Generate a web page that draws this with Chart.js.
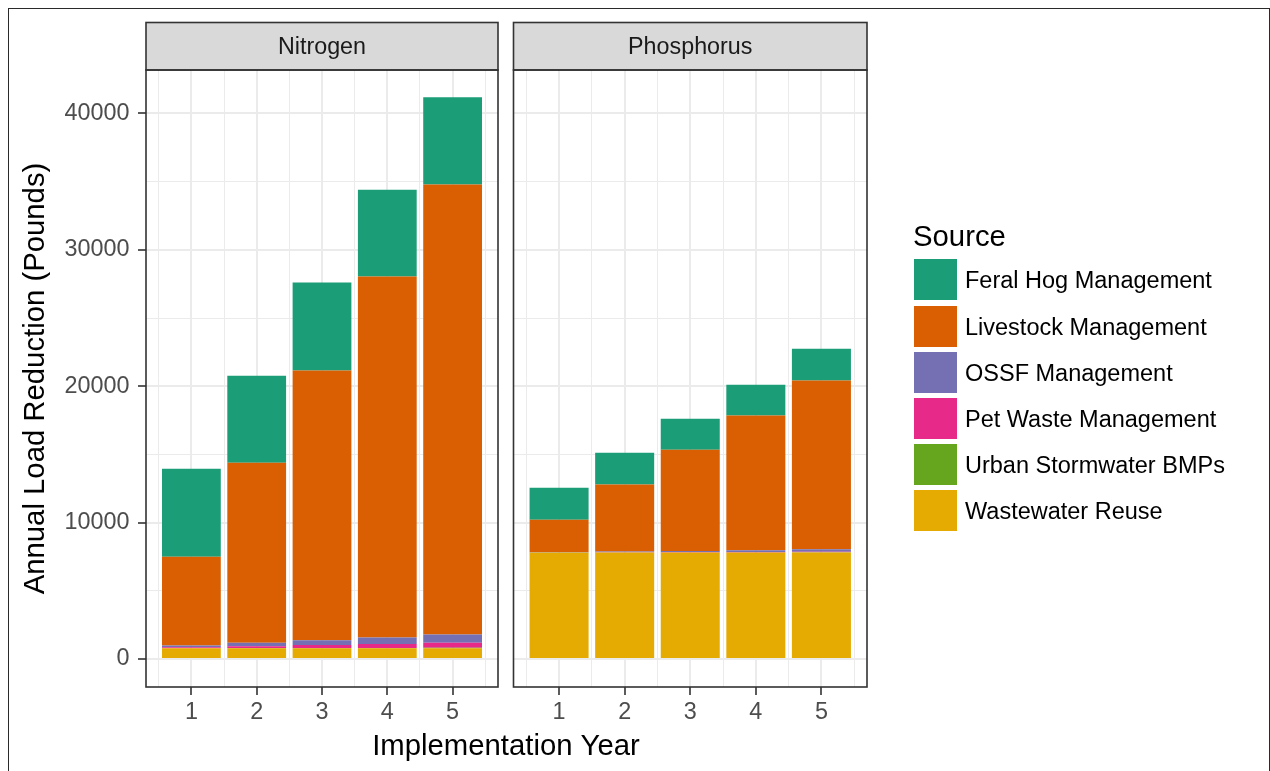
<!DOCTYPE html>
<html>
<head>
<meta charset="utf-8">
<script src="https://cdn.jsdelivr.net/npm/chart.js@4/dist/chart.umd.min.js"></script>
<style>
  html, body { margin: 0; padding: 0; background: #ffffff; overflow: hidden; }
  body { width: 1270px; height: 771px; position: relative; font-family: "Liberation Sans", Arial, sans-serif; }
  #frame { position: absolute; left: 8px; top: 8px; width: 1262px; height: 820px; box-sizing: border-box; border: 1px solid #2a2a2a; }
  canvas { position: absolute; left: 0; top: 0; }
  #legend { position: absolute; left: 0; top: 0; }
  .lg-title { position: absolute; left: 913px; top: 219px; font-size: 29.3px; line-height: 34px; color: #000; white-space: nowrap; }
  .lg-key { position: absolute; left: 914px; width: 43px; height: 41px; }
  .lg-text { position: absolute; left: 965px; font-size: 23.5px; line-height: 28px; color: #000; white-space: nowrap; }
</style>
</head>
<body>
<div id="frame"></div>
<canvas id="nitrogen" width="1270" height="771"></canvas>
<canvas id="phosphorus" width="1270" height="771"></canvas>
<div id="legend"></div>
<script>
// Implementation years on the x axis
const years = [1, 2, 3, 4, 5];
const panelTitles = ['Nitrogen', 'Phosphorus'];
const sourceNames = ['Feral Hog Management', 'Livestock Management', 'OSSF Management',
                     'Pet Waste Management', 'Urban Stormwater BMPs', 'Wastewater Reuse'];
const sourceColors = ['#1B9E77', '#D95F02', '#7570B3', '#E7298A', '#66A61E', '#E6AB02'];

// Annual load reduction (pounds), nitrogen
const nitrogenFeralHog   = [6440, 6380, 6450, 6370, 6400];
const nitrogenLivestock  = [6510, 13210, 19780, 26470, 32990];
const nitrogenOSSF       = [125, 245, 345, 465, 610];
const nitrogenPetWaste   = [75, 145, 220, 295, 365];
const nitrogenStormwater = [10, 15, 25, 30, 40];
const nitrogenWastewater = [780, 780, 780, 780, 780];

// Annual load reduction (pounds), phosphorus
const phosphorusFeralHog   = [2340, 2340, 2270, 2270, 2340];
const phosphorusLivestock  = [2380, 4900, 7420, 9880, 12360];
const phosphorusOSSF       = [20, 60, 90, 120, 190];
const phosphorusPetWaste   = [10, 15, 25, 30, 40];
const phosphorusStormwater = [5, 10, 10, 15, 20];
const phosphorusWastewater = [7800, 7800, 7800, 7800, 7800];

// y tick values (labelled every 10000, minor grid every 5000)
const yTickValues = [0, 5000, 10000, 15000, 20000, 25000, 30000, 35000, 40000];
// x tick values (labelled at whole years, minor grid half way between)
const xTickValues = [0.5, 1, 1.5, 2, 2.5, 3, 3.5, 4, 4.5, 5, 5.5];

const FONT = '"Liberation Sans", Arial, sans-serif';
const GRID = '#EBEBEB';
const DARK = '#333333';

function isMajorX(v) { return Number.isInteger(v); }
function isMajorY(v) { return v % 10000 === 0; }

function makeDatasets(series) {
  // stacked from the bottom up: wastewater first, feral hog on top
  const order = [5, 4, 3, 2, 1, 0];
  return order.map(i => ({
    label: sourceNames[i],
    data: years.map((yr, k) => ({ x: yr, y: series[i][k] })),
    backgroundColor: sourceColors[i],
    borderWidth: 0,
    // the narrowest spacing the bar controller sees is the half-year grid step,
    // so 1.8 of it gives bars 0.9 of a year wide
    categoryPercentage: 1,
    barPercentage: 1.8
  }));
}

// facet strip, panel border and shared x-axis title
const facetPlugin = {
  id: 'facet',
  afterDraw(chart, args, opts) {
    const { ctx, chartArea: a } = chart;
    ctx.save();
    // strip
    ctx.fillStyle = '#D9D9D9';
    ctx.fillRect(a.left, 22.5, a.right - a.left, a.top - 22.5);
    ctx.strokeStyle = DARK;
    ctx.lineWidth = 1.6;
    ctx.strokeRect(a.left, 22.5, a.right - a.left, a.top - 22.5);
    ctx.fillStyle = '#1A1A1A';
    ctx.font = '23.3px ' + FONT;
    ctx.textAlign = 'center';
    ctx.textBaseline = 'middle';
    ctx.fillText(opts.title, (a.left + a.right) / 2, (22.5 + a.top) / 2 + 1);
    // panel border
    ctx.strokeRect(a.left, a.top, a.right - a.left, a.bottom - a.top);
    if (opts.xTitle) {
      ctx.fillStyle = '#000000';
      ctx.font = '29.3px ' + FONT;
      ctx.textAlign = 'center';
      ctx.textBaseline = 'alphabetic';
      ctx.fillText(opts.xTitle, opts.xTitleX, 755);
    }
    ctx.restore();
  }
};

function makeChart(canvasId, series, panel) {
  const first = panel === 0;
  return new Chart(document.getElementById(canvasId), {
    type: 'bar',
    data: { datasets: makeDatasets(series) },
    plugins: [facetPlugin],
    options: {
      responsive: false,
      animation: false,
      devicePixelRatio: 1,
      layout: {
        padding: first ? { left: 0, top: 70, right: 1270 - 498, bottom: 0 }
                       : { left: 513.5, top: 70, right: 1270 - 867, bottom: 0 }
      },
      plugins: {
        legend: { display: false },
        tooltip: { enabled: false },
        facet: {
          title: panelTitles[panel],
          xTitle: first ? 'Implementation Year' : null,
          xTitleX: 506
        }
      },
      scales: {
        x: {
          type: 'linear',
          stacked: true,
          offset: false,
          min: 0.305,
          max: 5.695,
          afterBuildTicks: s => { s.ticks = xTickValues.map(v => ({ value: v })); },
          afterFit: s => { s.height = 84; },
          border: { display: false },
          grid: {
            offset: false,
            color: GRID,
            lineWidth: c => (c.tick && isMajorX(c.tick.value)) ? 2 : 1,
            drawTicks: true,
            tickLength: 8,
            tickWidth: 1.6,
            tickColor: c => (c.tick && isMajorX(c.tick.value)) ? DARK : 'rgba(0,0,0,0)'
          },
          ticks: {
            autoSkip: false,
            maxRotation: 0,
            padding: 4,
            color: '#4D4D4D',
            font: { family: FONT, size: 23.4 },
            callback: v => isMajorX(v) ? String(v) : ''
          }
        },
        y: {
          type: 'linear',
          stacked: true,
          min: -2056,
          max: 43186,
          afterBuildTicks: s => { s.ticks = yTickValues.map(v => ({ value: v })); },
          afterFit: s => { s.width = first ? 146 : 0; },
          border: { display: false },
          grid: {
            color: GRID,
            lineWidth: c => (c.tick && isMajorY(c.tick.value)) ? 2 : 1,
            drawTicks: first,
            tickLength: 8,
            tickWidth: 1.6,
            tickColor: c => (c.tick && isMajorY(c.tick.value)) ? DARK : 'rgba(0,0,0,0)'
          },
          ticks: {
            display: first,
            autoSkip: false,
            padding: 8.5,
            color: '#4D4D4D',
            font: { family: FONT, size: 23.4 },
            callback: v => isMajorY(v) ? String(v) : ''
          },
          title: {
            display: first,
            text: 'Annual Load Reduction (Pounds)',
            color: '#000000',
            font: { family: FONT, size: 29.3, lineHeight: 1.2 },
            padding: { top: 18, bottom: 0 }
          }
        }
      }
    }
  });
}

makeChart('nitrogen', [nitrogenFeralHog, nitrogenLivestock, nitrogenOSSF,
                       nitrogenPetWaste, nitrogenStormwater, nitrogenWastewater], 0);
makeChart('phosphorus', [phosphorusFeralHog, phosphorusLivestock, phosphorusOSSF,
                         phosphorusPetWaste, phosphorusStormwater, phosphorusWastewater], 1);

// legend for the fill colours
const legend = document.getElementById('legend');
const title = document.createElement('div');
title.className = 'lg-title';
title.textContent = 'Source';
legend.appendChild(title);
sourceNames.forEach((name, i) => {
  const top = 259.3 + i * 46.2;
  const key = document.createElement('div');
  key.className = 'lg-key';
  key.style.top = top + 'px';
  key.style.background = sourceColors[i];
  legend.appendChild(key);
  const text = document.createElement('div');
  text.className = 'lg-text';
  text.style.top = (top + 21 - 14) + 'px';
  text.textContent = name;
  legend.appendChild(text);
});
</script>
</body>
</html>
